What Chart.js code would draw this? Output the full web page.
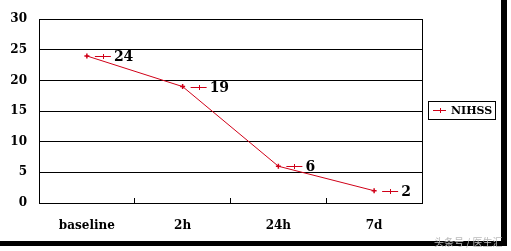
<!DOCTYPE html>
<html>
<head>
<meta charset="utf-8">
<script src="https://cdn.jsdelivr.net/npm/chart.js@4/dist/chart.umd.min.js"></script>
<style>
  body { margin: 0; background: #fff; }
  #frame {
    position: absolute; left: 0; top: 0;
    width: 501px; height: 241px;
    border-right: 6px solid #000; border-bottom: 5px solid #000;
  }
  #mark {
    position: absolute; left: 434px; top: 234px;
    font: 10px "Noto Sans CJK SC"; color: #bbb; white-space: nowrap;
  }
</style>
</head>
<body>
<div id="frame"><canvas id="chart" width="501" height="241"></canvas></div>
<span id="mark">头条号 / 医生汇</span>
<script>
const categories = ['baseline', '2h', '24h', '7d'];
const nihss = [24, 19, 6, 2];
const seriesName = 'NIHSS';
const yTicks = [0, 5, 10, 15, 20, 25, 30];

const red = '#d00018';
const boldFont = { family: 'DejaVu Serif', weight: 'bold', size: 12 };

// little "-+-" key, reused by the legend and by the value labels
function drawKey(ctx, x, y, w) {
  ctx.save();
  ctx.strokeStyle = red;
  ctx.lineWidth = 1;
  ctx.beginPath();
  ctx.moveTo(x, y + 0.5); ctx.lineTo(x + w, y + 0.5);
  const cx = Math.round(x + w / 2) + 0.5;
  ctx.moveTo(cx, y - 2); ctx.lineTo(cx, y + 3);
  ctx.stroke();
  ctx.restore();
}

const extras = {
  id: 'extras',
  afterDatasetsDraw(chart) {
    const ctx = chart.ctx;
    const a = chart.chartArea;
    // plot frame
    ctx.save();
    ctx.strokeStyle = '#000';
    ctx.lineWidth = 1;
    ctx.strokeRect(Math.round(a.left) + 0.5, Math.round(a.top) + 0.5,
      Math.round(a.right - a.left), Math.round(a.bottom - a.top));
    ctx.restore();

    // value labels with legend key
    const meta = chart.getDatasetMeta(0);
    ctx.save();
    ctx.font = 'bold 14px "DejaVu Serif"';
    ctx.fillStyle = '#000';
    ctx.textBaseline = 'middle';
    meta.data.forEach((pt, i) => {
      const y = Math.round(pt.y);
      drawKey(ctx, pt.x + 8, y, 16);
      ctx.fillText(String(nihss[i]), pt.x + 27, y + 1);
    });
    ctx.restore();

    // legend box
    const lx = a.right + 6, ly = (a.top + a.bottom) / 2 - 10;
    ctx.save();
    ctx.strokeStyle = '#000';
    ctx.lineWidth = 1;
    ctx.strokeRect(Math.round(lx) + 0.5, Math.round(ly) + 0.5, 67, 18);
    drawKey(ctx, lx + 5, Math.round(ly) + 9, 13);
    ctx.font = 'bold 11px "DejaVu Serif"';
    ctx.fillStyle = '#000';
    ctx.textBaseline = 'middle';
    ctx.fillText(seriesName, lx + 23, ly + 10);
    ctx.restore();
  }
};

new Chart(document.getElementById('chart'), {
  type: 'line',
  data: {
    labels: categories,
    datasets: [{
      label: seriesName,
      data: nihss,
      borderColor: red,
      backgroundColor: red,
      borderWidth: 1,
      pointStyle: 'cross',
      pointRadius: 2.5,
      pointBorderWidth: 1.5,
      tension: 0,
    }],
  },
  options: {
    responsive: false,
    animation: false,
    events: [],
    layout: { padding: { left: 0, top: 19, right: 79, bottom: 0 } },
    plugins: { legend: { display: false }, tooltip: { enabled: false } },
    scales: {
      x: {
        offset: true,
        grid: { display: true, drawOnChartArea: false, tickLength: -5, color: '#000', offset: true },
        border: { color: '#000' },
        ticks: { color: '#000', font: boldFont, padding: 21, maxRotation: 0 },
        afterFit: s => { s.height = 38; },
      },
      y: {
        min: 0,
        max: 30,
        afterBuildTicks: s => { s.ticks = yTicks.map(v => ({ value: v })); },
        grid: { color: '#000', drawTicks: false },
        border: { color: '#000' },
        ticks: { color: '#000', font: boldFont, padding: 12 },
        afterFit: s => { s.width = 39; },
      },
    },
  },
  plugins: [extras],
});
</script>
</body>
</html>
